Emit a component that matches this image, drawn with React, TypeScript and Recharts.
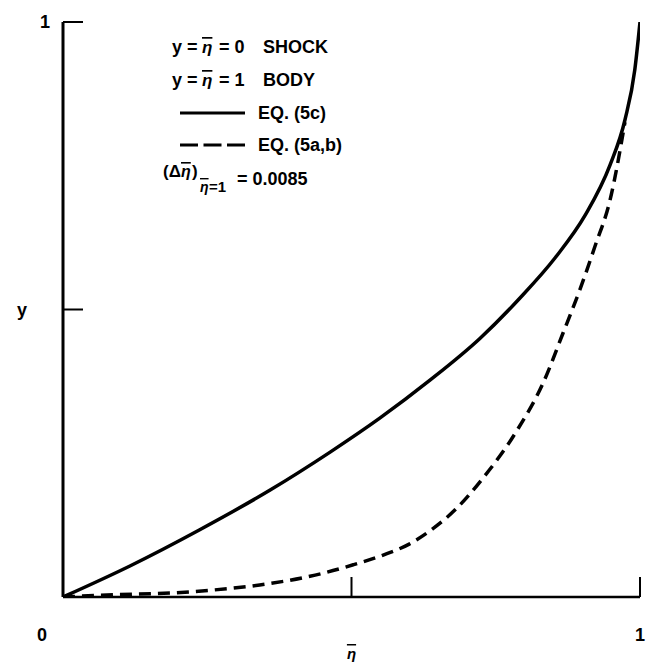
import React from "react";
import { LineChart, Line, XAxis, YAxis } from "recharts";

// EQ. (5c) — solid curve
const solidEta = [0, 0.116, 0.237, 0.359, 0.463, 0.549, 0.636, 0.723, 0.792, 0.853, 0.905, 0.948, 0.974, 0.991, 1.0];
const solidY = [0, 0.054, 0.117, 0.186, 0.252, 0.311, 0.377, 0.45, 0.52, 0.59, 0.664, 0.751, 0.83, 0.917, 1.0];

// EQ. (5a,b) — dashed curve
const dashEta = [0, 0.064, 0.22, 0.341, 0.428, 0.503, 0.555, 0.6, 0.64, 0.68, 0.728, 0.787, 0.832, 0.867, 0.896, 0.922, 0.948, 0.974];
const dashY = [0, 0.003, 0.009, 0.021, 0.036, 0.056, 0.073, 0.092, 0.118, 0.152, 0.207, 0.29, 0.372, 0.46, 0.535, 0.61, 0.69, 0.826];

const xTicks = [0, 0.5, 1];
const yTicks = [0, 0.5, 1];

const solidData = solidEta.map((x, i) => ({ x, y: solidY[i] }));
const dashData = dashEta.map((x, i) => ({ x, y: dashY[i] }));

const FONT = "'Liberation Sans', Arial, Helvetica, sans-serif";
const textStyle = { fontFamily: FONT, fontWeight: 700, fontSize: 18, fill: "#000" } as const;
const etaStyle = {
  fontFamily: FONT,
  fontStyle: "italic",
  fontWeight: 700,
  fontSize: 17,
  fill: "#000",
  textDecoration: "overline",
} as const;

const XTick = (props: any) => {
  const { x, y, payload } = props;
  const v = payload.value;
  return (
    <g>
      {v !== 0 && <line x1={x} y1={y} x2={x} y2={y - 20} stroke="#000" strokeWidth={2} />}
      {v === 0 && (
        <text x={x - 21} y={y + 44} textAnchor="middle" style={textStyle}>0</text>
      )}
      {v === 1 && (
        <text x={x} y={y + 44} textAnchor="middle" style={textStyle}>1</text>
      )}
      {v === 0.5 && (
        <text x={x} y={y + 62} textAnchor="middle" style={{ ...etaStyle, fontSize: 15 }}>η</text>
      )}
    </g>
  );
};

const YTick = (props: any) => {
  const { x, y, payload } = props;
  const v = payload.value;
  if (v === 0) return <g />;
  return (
    <g>
      <line x1={x} y1={y} x2={x + 20} y2={y} stroke="#000" strokeWidth={2} />
      <text x={v === 1 ? x - 18 : x - 41} y={y + 6} textAnchor="middle" style={textStyle}>
        {v === 1 ? "1" : "y"}
      </text>
    </g>
  );
};

export default function App() {
  return (
    <div style={{ position: "absolute", left: 0, top: 0, width: 660, height: 670, background: "#fff" }}>
      <LineChart
        width={660}
        height={670}
        margin={{ top: 22, right: 20, bottom: 33, left: 23 }}
      >
        <XAxis
          dataKey="x"
          type="number"
          domain={[0, 1]}
          ticks={xTicks}
          height={40}
          tickSize={0}
          tickMargin={0}
          tick={<XTick />}
          axisLine={{ stroke: "#000", strokeWidth: 2.5 }}
          allowDataOverflow
        />
        <YAxis
          type="number"
          domain={[0, 1]}
          ticks={yTicks}
          width={40}
          tickSize={0}
          tickMargin={0}
          tick={<YTick />}
          axisLine={{ stroke: "#000", strokeWidth: 3 }}
          allowDataOverflow
        />
        <Line
          data={solidData}
          dataKey="y"
          type="monotone"
          stroke="#000"
          strokeWidth={3.5}
          dot={false}
          isAnimationActive={false}
        />
        <Line
          data={dashData}
          dataKey="y"
          type="monotone"
          stroke="#000"
          strokeWidth={3.5}
          strokeDasharray="12 7"
          dot={false}
          isAnimationActive={false}
        />
      </LineChart>
      <svg
        width={660}
        height={670}
        style={{ position: "absolute", left: 0, top: 0, pointerEvents: "none" }}
      >
        <text x={172} y={53} style={textStyle}>y =</text>
        <text x={202} y={53} style={etaStyle}>η</text>
        <text x={219} y={53} style={textStyle}>= 0</text>
        <text x={263} y={53} style={textStyle}>SHOCK</text>

        <text x={172} y={86} style={textStyle}>y =</text>
        <text x={202} y={86} style={etaStyle}>η</text>
        <text x={219} y={86} style={textStyle}>= 1</text>
        <text x={263} y={86} style={textStyle}>BODY</text>

        <line x1={180} y1={113} x2={245} y2={113} stroke="#000" strokeWidth={3} />
        <text x={258} y={119} style={textStyle}>EQ. (5c)</text>
        <line x1={180} y1={145} x2={245} y2={145} stroke="#000" strokeWidth={3} strokeDasharray="18 5.5" />
        <text x={258} y={151} style={textStyle}>EQ. (5a,b)</text>

        <text x={163} y={177} style={{ ...textStyle, fontSize: 17 }}>(Δ</text>
        <text x={181} y={177} style={{ ...etaStyle, fontSize: 16 }}>η</text>
        <text x={192} y={177} style={{ ...textStyle, fontSize: 17 }}>)</text>
        <text x={200} y={192} style={{ ...etaStyle, fontSize: 14 }}>η</text>
        <text x={209} y={192} style={{ ...textStyle, fontSize: 15 }}>=1</text>
        <text x={237} y={185} style={textStyle}>= 0.0085</text>
      </svg>
    </div>
  );
}
